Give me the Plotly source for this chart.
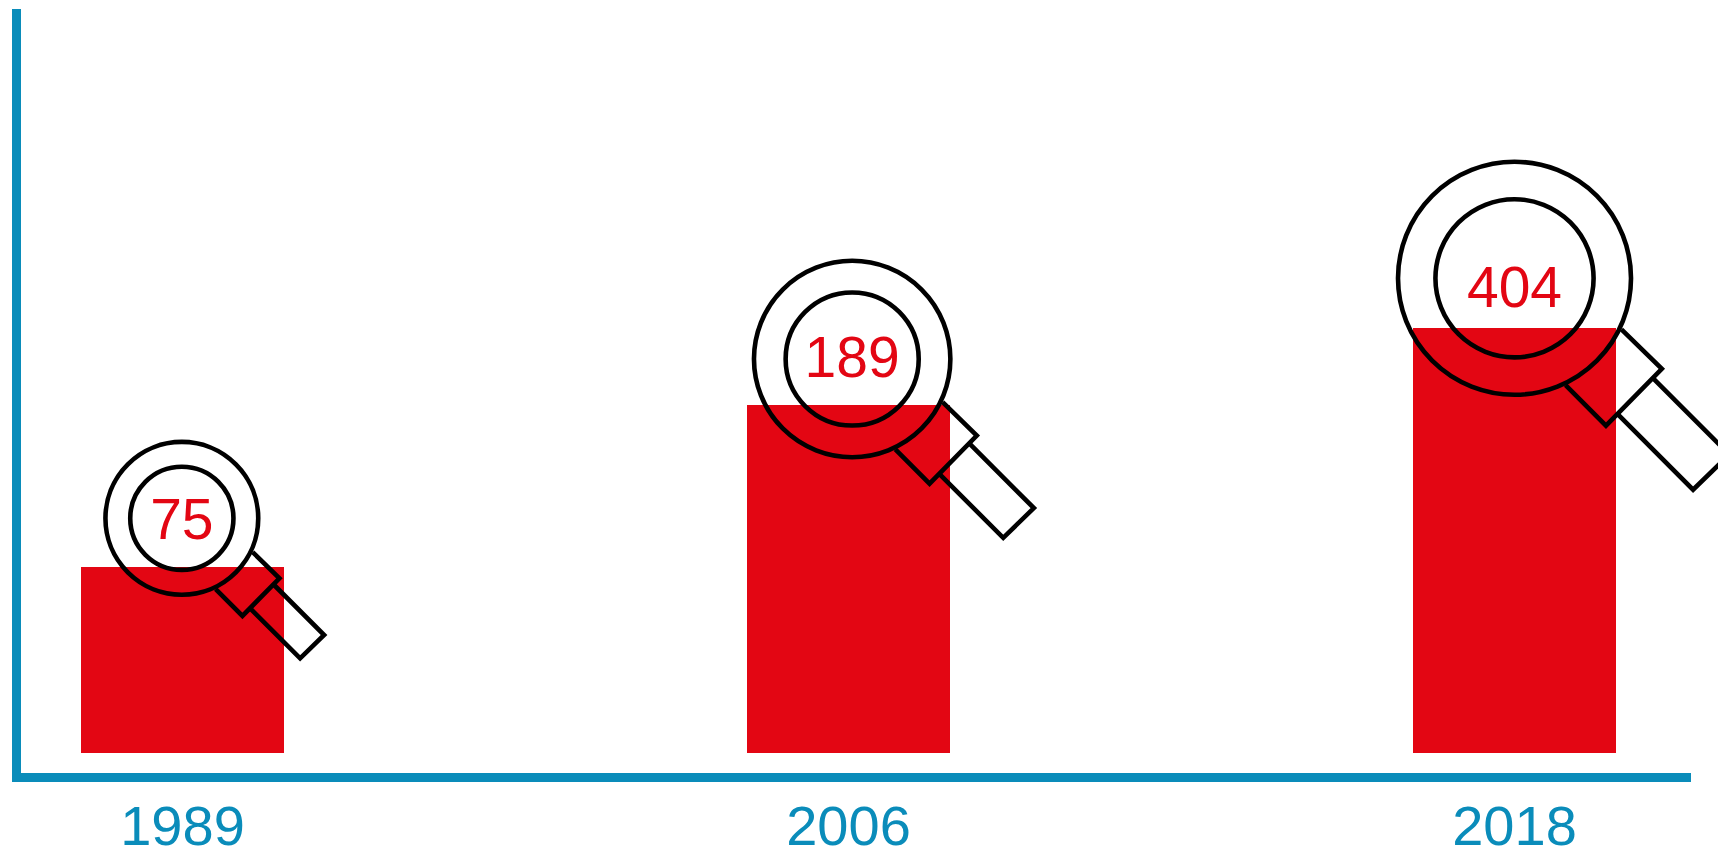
import plotly.graph_objects as go

# Data
years = ["1989", "2006", "2018"]
values = ["75", "189", "404"]          # printed numbers
bar_heights = [186.3, 348.5, 424.7]    # drawn height of each bar (not proportional in the original)
slots = [0, 1, 2]

# Magnifier placement, in axis units above the baseline
lens_y = [234.7, 394.0, 474.7]
lens_x = [-0.001, 1.0055, 2.0]
lens_radius = [78.7, 100.5, 118.8]
label_y = [228.5, 390.0, 460.5]

RED = "#e30613"
BLUE = "#0a8cba"
BLACK = "#000000"
FONT = "Liberation Sans"
SLOT_PX = 666.0
X_RANGE = [-0.2425, 2.265]
STROKE = 4.6

# Handle outlines, in multiples of the lens radius (x right, y down); open paths
ferrule = [(0.90, 0.43), (1.24, 0.762), (0.77, 1.24), (0.43, 0.90)]
grip = [(1.163, 0.838), (1.808, 1.483), (1.503, 1.779), (0.862, 1.138)]


def to_paper(x):
    return (x - X_RANGE[0]) / (X_RANGE[1] - X_RANGE[0])


fig = go.Figure()
fig.add_trace(go.Bar(x=slots, y=bar_heights, width=203 / SLOT_PX,
                     marker=dict(color=RED, line=dict(width=0)), hoverinfo="skip"))

for cx, cy, r in zip(lens_x, lens_y, lens_radius):
    for outline in (ferrule, grip):
        pts = [(to_paper(cx + u * r / SLOT_PX), cy - v * r) for u, v in outline]
        path = "M " + " L ".join(f"{px:.5f} {py:.2f}" for px, py in pts)
        fig.add_shape(type="path", path=path, xref="paper", yref="y", layer="above",
                      line=dict(color=BLACK, width=STROKE), fillcolor="rgba(0,0,0,0)")

for scale in (1.0, 0.685):
    fig.add_trace(go.Scatter(
        x=lens_x, y=lens_y, mode="markers", cliponaxis=False, hoverinfo="skip",
        marker=dict(symbol="circle-open", color=BLACK, opacity=1,
                    size=[2 * (scale * r - STROKE / 2) for r in lens_radius],
                    line=dict(color=BLACK, width=STROKE))))

fig.add_trace(go.Scatter(
    x=lens_x, y=label_y, mode="text", text=values, cliponaxis=False, hoverinfo="skip",
    textposition="middle center", textfont=dict(family=FONT, size=57, color=RED)))

fig.update_layout(
    width=1718, height=851, showlegend=False,
    margin=dict(l=21, r=27, t=9, b=78, pad=0),
    paper_bgcolor="white", plot_bgcolor="white", bargap=0,
    xaxis=dict(range=X_RANGE, tickmode="array", tickvals=slots, ticktext=years, automargin=False,
               showgrid=False, zeroline=False, ticks="", showline=True, linecolor=BLUE,
               linewidth=9, ticklabelstandoff=-4,
               tickfont=dict(family=FONT, size=56, color=BLUE)),
    yaxis=dict(range=[-20, 744], showgrid=False, zeroline=False, ticks="", showticklabels=False,
               automargin=False, showline=True, linecolor=BLUE, linewidth=9),
)
fig.write_html("out.html", config={"displayModeBar": False},
               post_script="document.body.style.margin='0';document.body.style.overflow='hidden';")
